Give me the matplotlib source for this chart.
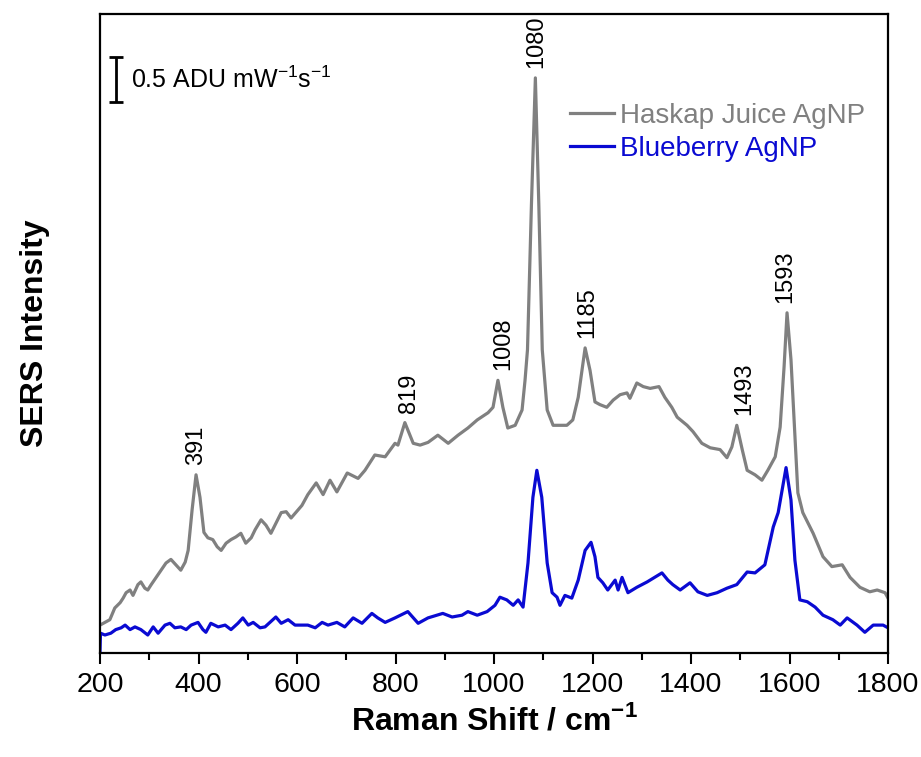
import numpy as np
import matplotlib
matplotlib.use("Agg")
import matplotlib.pyplot as plt
from matplotlib.ticker import MultipleLocator

# ---- data (intensity in ADU mW^-1 s^-1, offset arbitrary) ----
haskap_x = [200, 210, 220, 230, 241, 247, 253, 261, 267, 277, 283, 291, 297, 304, 314,
            324, 334, 344, 354, 364, 373, 379, 387, 395, 403, 411, 419, 429, 438, 446,
            456, 466, 476, 486, 496, 507, 515, 527, 537, 547, 557, 568, 578, 588, 602,
            610, 622, 639, 653, 667, 681, 702, 724, 738, 758, 779, 799, 805, 819, 836,
            850, 866, 886, 907, 927, 947, 966, 988, 998, 1008, 1018, 1028, 1043, 1057, 1063,
            1068, 1076, 1084, 1091, 1098, 1108, 1120, 1148, 1160, 1171, 1185, 1195, 1205, 1215,
            1229, 1242, 1256, 1270, 1276, 1290, 1303, 1317, 1335, 1347, 1361, 1372, 1392, 1404,
            1422, 1439, 1459, 1473, 1483, 1493, 1504, 1514, 1530, 1544, 1556, 1571, 1581, 1589,
            1595, 1603, 1609, 1617, 1627, 1648, 1668, 1686, 1707, 1723, 1743, 1763, 1778, 1794, 1800]
haskap_y = [0.31, 0.34, 0.37, 0.50, 0.56, 0.61, 0.67, 0.70, 0.64, 0.76, 0.79, 0.72, 0.70, 0.76, 0.84,
            0.92, 1.00, 1.04, 0.98, 0.92, 1.01, 1.14, 1.59, 1.98, 1.73, 1.34, 1.28, 1.26, 1.18, 1.14,
            1.22, 1.26, 1.29, 1.33, 1.22, 1.28, 1.37, 1.48, 1.42, 1.33, 1.44, 1.56, 1.57, 1.50, 1.59,
            1.64, 1.76, 1.89, 1.76, 1.92, 1.79, 2.00, 1.94, 2.03, 2.20, 2.18, 2.33, 2.31, 2.56, 2.33,
            2.31, 2.34, 2.42, 2.33, 2.42, 2.50, 2.59, 2.67, 2.73, 3.03, 2.73, 2.50, 2.53, 2.70, 3.03,
            3.37, 4.98, 6.39, 4.98, 3.37, 2.70, 2.53, 2.53, 2.59, 2.84, 3.39, 3.14, 2.79, 2.76,
            2.73, 2.81, 2.87, 2.89, 2.83, 3.00, 2.96, 2.94, 2.96, 2.84, 2.73, 2.62, 2.53, 2.46,
            2.33, 2.28, 2.26, 2.17, 2.29, 2.53, 2.26, 2.03, 1.98, 1.92, 2.03, 2.18, 2.51, 3.18,
            3.78, 3.26, 2.62, 1.78, 1.56, 1.33, 1.07, 0.96, 0.98, 0.84, 0.73, 0.68, 0.70, 0.67, 0.61]

blue_x = [200, 201, 210, 222, 232, 243, 251, 261, 271, 283, 297, 308, 318, 332, 342,
          352, 364, 375, 385, 399, 409, 415, 425, 440, 454, 466, 480, 490, 501, 511,
          525, 535, 545, 557, 568, 582, 596, 610, 622, 637, 651, 663, 681, 697, 714,
          732, 752, 764, 779, 799, 825, 846, 866, 896, 915, 935, 947, 966, 986, 1002,
          1012, 1026, 1039, 1049, 1059, 1069, 1079, 1087, 1097, 1108, 1118, 1128, 1134, 1144, 1158,
          1171, 1185, 1197, 1205, 1211, 1221, 1231, 1246, 1252, 1260, 1272, 1290, 1311, 1323,
          1341, 1353, 1363, 1378, 1398, 1414, 1433, 1453, 1473, 1493, 1514, 1530, 1550, 1567,
          1577, 1593, 1603, 1611, 1621, 1636, 1652, 1668, 1688, 1703, 1717, 1737, 1753, 1770,
          1790, 1800]
blue_y = [0.01, 0.22, 0.20, 0.22, 0.26, 0.28, 0.31, 0.26, 0.29, 0.26, 0.20, 0.29, 0.22, 0.31, 0.33,
          0.28, 0.29, 0.26, 0.31, 0.34, 0.26, 0.23, 0.33, 0.29, 0.31, 0.26, 0.33, 0.39, 0.31, 0.34,
          0.28, 0.29, 0.34, 0.40, 0.33, 0.37, 0.31, 0.31, 0.31, 0.28, 0.34, 0.31, 0.34, 0.29, 0.39,
          0.33, 0.44, 0.39, 0.34, 0.39, 0.46, 0.33, 0.39, 0.44, 0.40, 0.42, 0.46, 0.42, 0.46, 0.53,
          0.62, 0.59, 0.53, 0.59, 0.51, 1.00, 1.73, 2.03, 1.73, 1.00, 0.67, 0.62, 0.53, 0.64, 0.61,
          0.81, 1.14, 1.23, 1.07, 0.84, 0.78, 0.70, 0.81, 0.70, 0.84, 0.67, 0.73, 0.79, 0.83,
          0.89, 0.81, 0.76, 0.70, 0.78, 0.68, 0.64, 0.67, 0.72, 0.76, 0.90, 0.89, 0.98, 1.40,
          1.56, 2.06, 1.70, 1.03, 0.59, 0.57, 0.51, 0.42, 0.37, 0.31, 0.39, 0.31, 0.23, 0.31,
          0.31, 0.28]

peak_labels = ["391", "819", "1008", "1080", "1185", "1493", "1593"]
peak_label_x = [395, 827, 1018, 1085, 1189, 1508, 1591]

series_names = ["Haskap Juice AgNP", "Blueberry AgNP"]
xticks = [200, 400, 600, 800, 1000, 1200, 1400, 1600, 1800]
scale_bar_value = 0.5

# ---- style ----
plt.rcParams["font.family"] = ["Liberation Sans", "DejaVu Sans"]
plt.rcParams["mathtext.fontset"] = "custom"
plt.rcParams["mathtext.rm"] = "Liberation Sans"
plt.rcParams["mathtext.bf"] = "Liberation Sans:bold"

fig = plt.figure(figsize=(9.21, 7.57), dpi=100)
ax = fig.add_axes([100 / 921, 1 - 653 / 757, 788 / 921, 639 / 757])

gray = "#808080"
blue = "#0a0ad2"
ax.plot(haskap_x, haskap_y, color=gray, lw=2.3, label=series_names[0], solid_joinstyle="round")
ax.plot(blue_x, blue_y, color=blue, lw=2.3, label=series_names[1], solid_joinstyle="round")

ax.set_xlim(200, 1800)
ax.set_ylim(0, 7.1)
ax.set_xticks(xticks)
ax.xaxis.set_minor_locator(MultipleLocator(100))
ax.set_yticks([])
ax.tick_params(axis="x", which="major", direction="out", length=8, width=1.5,
               labelsize=20.5, pad=6, top=False)
ax.tick_params(axis="x", which="minor", direction="out", length=5, width=1.5, top=False)
for s in ax.spines.values():
    s.set_linewidth(1.6)

ax.set_xlabel("Raman Shift / cm$^{\\mathbf{-1}}$", fontsize=23, fontweight="bold", labelpad=4)
ax.set_ylabel("SERS Intensity", fontsize=23, fontweight="bold", labelpad=36)

# peak labels, placed just above the local maximum of the Haskap spectrum
hx = np.array(haskap_x, dtype=float)
hy = np.array(haskap_y, dtype=float)
for lab, px in zip(peak_labels, peak_label_x):
    m = (hx >= px - 20) & (hx <= px + 20)
    ytop = hy[m].max() + 0.11
    ax.text(px, ytop, lab, rotation=90, ha="center", va="bottom", fontsize=17, color="black")

# scale bar
bar_x = 232
bar_center = 6.37
ax.errorbar([bar_x], [bar_center], yerr=[scale_bar_value / 2], color="black", lw=2,
            capsize=5, capthick=2)
ax.text(263, bar_center, "0.5 ADU mW$^{-1}$s$^{-1}$", fontsize=18, va="center", ha="left")

ax.legend(loc="upper left", bbox_to_anchor=(0.596, 0.861), frameon=False,
          fontsize=20, handlelength=1.6, handletextpad=0.2, labelspacing=0.25,
          borderpad=0, borderaxespad=0, labelcolor="linecolor")

fig.savefig("out.png", dpi=100)
